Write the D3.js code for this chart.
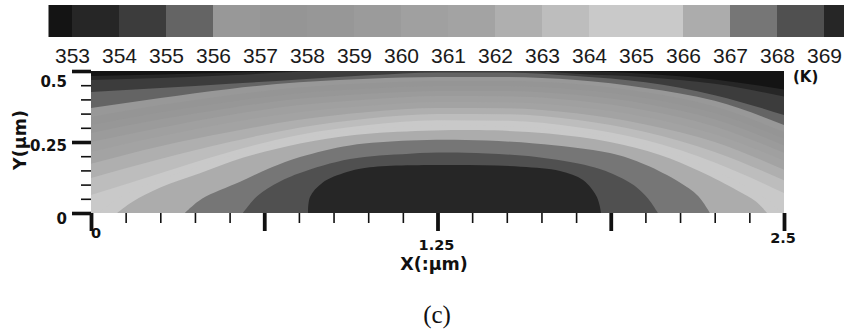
<!DOCTYPE html>
<html>
<head>
<meta charset="utf-8">
<script src="https://cdn.jsdelivr.net/npm/d3@7"></script>
<style>
  body { margin: 0; background: #fff; }
  svg { display: block; }
</style>
</head>
<body>
<svg id="chart" width="844" height="333"></svg>
<script>
// temperature levels (K) and gray of each band: below 353, 353-354, ..., 368-369, above 369
const levels = [353, 354, 355, 356, 357, 358, 359, 360, 361, 362, 363, 364, 365, 366, 367, 368, 369];
const bandGrays = ['#141414', '#262626', '#3c3c3c', '#646464', '#989898', '#959595', '#979797', '#9b9b9b',
  '#a0a0a0', '#a3a3a3', '#afafaf', '#bdbdbd', '#c9c9c9', '#c9c9c9', '#acacac', '#767676', '#505050', '#262626'];

// isotherms crossing the whole width: y (um) at each x (um)
const fullX = [0, 0.25, 0.5, 0.75, 1.0, 1.25, 1.5, 1.75, 2.0, 2.25, 2.5];
const t353 = [0.482, 0.488, 0.494, 0.500, 0.510, 0.520, 0.515, 0.502, 0.490, 0.470, 0.435];
const t354 = [0.468, 0.475, 0.485, 0.497, 0.505, 0.512, 0.508, 0.490, 0.478, 0.455, 0.410];
const t355 = [0.426, 0.440, 0.455, 0.470, 0.485, 0.495, 0.495, 0.482, 0.460, 0.415, 0.345];
const t356 = [0.370, 0.405, 0.437, 0.460, 0.473, 0.479, 0.479, 0.468, 0.440, 0.395, 0.310];
const t357 = [0.338, 0.380, 0.415, 0.442, 0.457, 0.465, 0.465, 0.454, 0.425, 0.375, 0.285];
const t358 = [0.310, 0.355, 0.392, 0.422, 0.438, 0.447, 0.447, 0.435, 0.405, 0.352, 0.262];
const t359 = [0.282, 0.330, 0.370, 0.402, 0.420, 0.430, 0.430, 0.416, 0.385, 0.330, 0.238];
const t360 = [0.250, 0.300, 0.345, 0.380, 0.400, 0.412, 0.411, 0.396, 0.362, 0.305, 0.212];
const t361 = [0.215, 0.270, 0.318, 0.355, 0.378, 0.391, 0.390, 0.374, 0.338, 0.277, 0.185];
const t362 = [0.173, 0.235, 0.285, 0.328, 0.356, 0.370, 0.369, 0.351, 0.312, 0.250, 0.152];
const t363 = [0.123, 0.190, 0.250, 0.300, 0.333, 0.349, 0.348, 0.328, 0.285, 0.215, 0.115];
const t364 = [0.063, 0.140, 0.215, 0.275, 0.310, 0.327, 0.325, 0.303, 0.257, 0.178, 0.070];

// closed isotherms sitting on the bottom edge: [x, y] in um
const d365 = [[0.03, 0], [0.08, 0.04], [0.2, 0.1], [0.393, 0.165], [0.55, 0.215], [0.754, 0.262], [0.95, 0.292],
  [1.2, 0.306], [1.4, 0.307], [1.65, 0.296], [1.872, 0.268], [2.05, 0.225], [2.2, 0.17], [2.35, 0.1], [2.45, 0.04], [2.49, 0]];
const d366 = [[0.094, 0], [0.15, 0.04], [0.25, 0.09], [0.393, 0.14], [0.55, 0.195], [0.754, 0.245], [0.95, 0.275],
  [1.2, 0.29], [1.4, 0.292], [1.65, 0.28], [1.872, 0.25], [2.05, 0.205], [2.2, 0.145], [2.33, 0.08], [2.40, 0.04], [2.439, 0]];
const d367 = [[0.339, 0], [0.40, 0.05], [0.538, 0.11], [0.65, 0.16], [0.754, 0.197], [0.934, 0.238], [1.15, 0.255],
  [1.35, 0.257], [1.6, 0.245], [1.872, 0.211], [2.0, 0.17], [2.12, 0.11], [2.19, 0.06], [2.233, 0]];
const d368 = [[0.548, 0], [0.60, 0.06], [0.68, 0.11], [0.754, 0.141], [0.934, 0.19], [1.15, 0.209], [1.35, 0.212],
  [1.6, 0.198], [1.80, 0.165], [1.872, 0.142], [1.96, 0.097], [2.01, 0.05], [2.045, 0]];
const d369 = [[0.783, 0], [0.79, 0.056], [0.834, 0.106], [0.923, 0.144], [1.006, 0.161], [1.295, 0.169], [1.55, 0.163],
  [1.692, 0.148], [1.775, 0.116], [1.825, 0.056], [1.840, 0]];

const xMinor = d3.range(0, 2.5001, 0.125);
const xMajor = [0, 0.625, 1.25, 1.875, 2.5];
const xLabels = [0, 1.25, 2.5];
const yMinor = d3.range(0, 0.5001, 0.05);
const yMajor = [0, 0.25, 0.5];

const svg = d3.select('#chart');
const boldFont = '"DejaVu Sans", Verdana, sans-serif';

const x = d3.scaleLinear().domain([0, 2.5]).range([91, 784]);
const y = d3.scaleLinear().domain([0, 0.5]).range([213, 71]);

// colour bar
const cb = d3.scaleLinear().domain([353, 369]).range([72, 824]);
const cells = bandGrays.map((g, i) => ({
  lo: i === 0 ? 352.5 : levels[i - 1],
  hi: i === levels.length ? 369.5 : levels[i],
  g
}));
svg.append('g').selectAll('rect').data(cells).join('rect')
  .attr('x', d => cb(d.lo))
  .attr('width', d => cb(d.hi) - cb(d.lo) + 0.5)
  .attr('y', 5).attr('height', 32)
  .attr('fill', d => d.g);

const cbAxis = svg.append('g')
  .attr('transform', 'translate(0,48)')
  .call(d3.axisBottom(cb).tickValues(levels).tickSize(0).tickPadding(0).tickFormat(d3.format('d')));
cbAxis.select('.domain').remove();
cbAxis.selectAll('text')
  .attr('font-family', '"Liberation Sans", Arial, sans-serif')
  .attr('font-size', 21)
  .attr('fill', '#1a1a1a');

// contour bands
svg.append('clipPath').attr('id', 'plotclip')
  .append('rect').attr('x', x(0)).attr('y', y(0.5)).attr('width', x(2.5) - x(0)).attr('height', y(0) - y(0.5));

const plot = svg.append('g').attr('clip-path', 'url(#plotclip)');
plot.append('rect')
  .attr('x', x(0)).attr('y', y(0.5)).attr('width', x(2.5) - x(0)).attr('height', y(0) - y(0.5))
  .attr('fill', bandGrays[0]);

const fullCurves = [t353, t354, t355, t356, t357, t358, t359, t360, t361, t362, t363, t364]
  .map(ys => ({ pts: fullX.map((v, i) => [v, ys[i]]), curve: d3.curveMonotoneX }));
const domeCurves = [d365, d366, d367, d368, d369]
  .map(pts => ({ pts, curve: d3.curveCatmullRom.alpha(0.5) }));
const isotherms = fullCurves.concat(domeCurves);

isotherms.forEach((c, i) => {
  const area = d3.area()
    .x(d => x(d[0]))
    .y0(y(0))
    .y1(d => y(d[1]))
    .curve(c.curve);
  plot.append('path')
    .attr('d', area(c.pts))
    .attr('fill', bandGrays[i + 1]);
});

// x ticks
function styleTicks(g, w) {
  g.select('.domain').remove();
  g.selectAll('line').attr('stroke', '#111').attr('stroke-width', w);
}
svg.append('g').attr('transform', `translate(0,${y(0)})`)
  .call(d3.axisBottom(x).tickValues(xMinor).tickSize(10).tickFormat(''))
  .call(g => styleTicks(g, 1.6));
svg.append('g').attr('transform', `translate(0,${y(0)})`)
  .call(d3.axisBottom(x).tickValues(xMajor).tickSize(18).tickFormat(''))
  .call(g => styleTicks(g, 3.8));

// y ticks
svg.append('g').attr('transform', `translate(${x(0)},0)`)
  .call(d3.axisLeft(y).tickValues(yMinor).tickSize(10).tickFormat(''))
  .call(g => styleTicks(g, 1.6));
svg.append('g').attr('transform', `translate(${x(0)},0)`)
  .call(d3.axisLeft(y).tickValues(yMajor).tickSize(19).tickFormat(''))
  .call(g => styleTicks(g, 3.6));

// tick labels
const xLabelOffset = v => v === 0 ? 20 : (v === 2.5 ? 24.5 : 32);
const xLabelShift = v => v === 0 ? 6 : 0;
svg.append('g').selectAll('text').data(xLabels).join('text')
  .attr('x', d => x(d) + xLabelShift(d) - 1)
  .attr('y', d => y(0) + xLabelOffset(d))
  .attr('dy', '0.35em')
  .attr('text-anchor', 'middle')
  .attr('font-family', boldFont).attr('font-weight', 'bold').attr('font-size', 14.5)
  .attr('fill', '#111')
  .text(d => String(d));

const yLabelOffset = v => v === 0.5 ? 11 : (v === 0.25 ? 3.5 : 5.5);
svg.append('g').selectAll('text').data(yMajor).join('text')
  .attr('x', 67)
  .attr('y', d => y(d) + yLabelOffset(d))
  .attr('dy', '0.35em')
  .attr('text-anchor', 'end')
  .attr('font-family', boldFont).attr('font-weight', 'bold').attr('font-size', 15)
  .attr('fill', '#111')
  .text(d => String(d));

// axis titles
svg.append('text')
  .attr('x', 434).attr('y', 270)
  .attr('text-anchor', 'middle')
  .attr('font-family', boldFont).attr('font-weight', 'bold').attr('font-size', 17.5)
  .attr('fill', '#111')
  .text('X(:µm)');

svg.append('text')
  .attr('transform', 'translate(26,140) rotate(-90)')
  .attr('text-anchor', 'middle')
  .attr('font-family', boldFont).attr('font-weight', 'bold').attr('font-size', 17.5)
  .attr('fill', '#111')
  .text('Y(µm)');

svg.append('text')
  .attr('x', 793).attr('y', 82)
  .attr('font-family', boldFont).attr('font-weight', 'bold').attr('font-size', 15)
  .attr('fill', '#111')
  .text('(K)');

svg.append('text')
  .attr('x', 437).attr('y', 323)
  .attr('text-anchor', 'middle')
  .attr('font-family', '"Liberation Serif", "Times New Roman", serif').attr('font-size', 25)
  .attr('fill', '#111')
  .text('(c)');
</script>
</body>
</html>
